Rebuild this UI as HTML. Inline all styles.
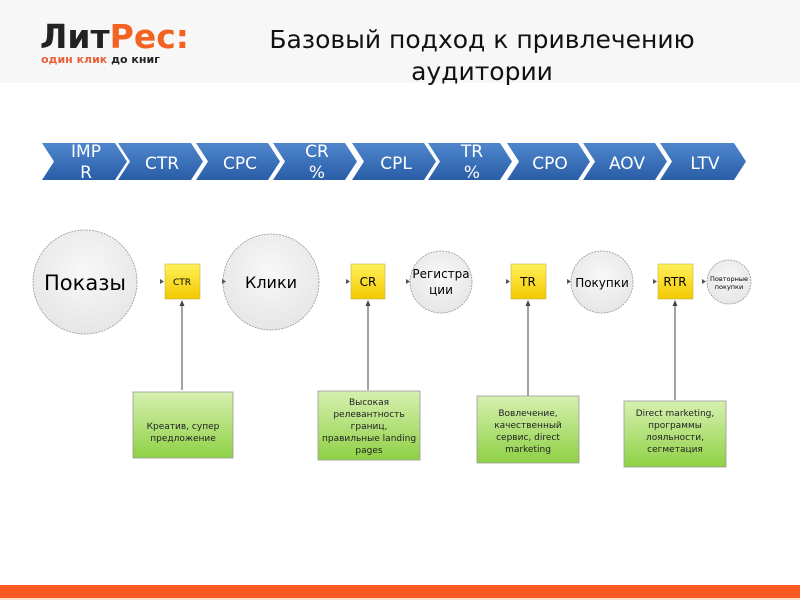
<!DOCTYPE html>
<html><head><meta charset="utf-8"><style>
body{margin:0;width:800px;height:600px;overflow:hidden;background:#fff;font-family:"Liberation Sans","DejaVu Sans",sans-serif}
</style></head><body>
<svg width="800" height="600" xmlns="http://www.w3.org/2000/svg" font-family="'DejaVu Sans','Liberation Sans',sans-serif">
<defs>
<linearGradient id="bl" x1="0" y1="0" x2="0" y2="1"><stop offset="0" stop-color="#4f86cc"/><stop offset="1" stop-color="#2a5ea8"/></linearGradient>
<linearGradient id="yl" x1="0" y1="0" x2="0" y2="1"><stop offset="0" stop-color="#fff15a"/><stop offset="1" stop-color="#f2c800"/></linearGradient>
<linearGradient id="gr" x1="0" y1="0" x2="0" y2="1"><stop offset="0" stop-color="#d6f0b0"/><stop offset="1" stop-color="#8fd145"/></linearGradient>
<radialGradient id="ci" cx="0.5" cy="0.4" r="0.6"><stop offset="0" stop-color="#f8f8f8"/><stop offset="1" stop-color="#e6e6e6"/></radialGradient>
</defs>
<rect x="0" y="0" width="800" height="83" fill="#f7f7f7"/>
<text x="40" y="48" font-size="33" font-weight="bold" fill="#222">Лит<tspan fill="#f26322">Рес:</tspan></text>
<text x="41" y="63" font-size="11" font-weight="bold" fill="#e8613a">один клик <tspan fill="#222">до книг</tspan></text>
<text x="482" y="48" font-size="25" text-anchor="middle" fill="#111">Базовый подход к привлечению</text>
<text x="482" y="80" font-size="25" text-anchor="middle" fill="#111">аудитории</text>
<g fill="url(#bl)">
<polygon points="42,143 115,143 127,161.5 115,180 42,180 54,161.5"/>
<polygon points="118,143 191,143 203,161.5 191,180 118,180 130,161.5"/>
<polygon points="196,143 268,143 280,161.5 268,180 196,180 208,161.5"/>
<polygon points="273,143 345,143 357,161.5 345,180 273,180 285,161.5"/>
<polygon points="352,143 424,143 436,161.5 424,180 352,180 364,161.5"/>
<polygon points="428,143 500,143 512,161.5 500,180 428,180 440,161.5"/>
<polygon points="507,143 578,143 590,161.5 578,180 507,180 519,161.5"/>
<polygon points="583,143 655,143 667,161.5 655,180 583,180 595,161.5"/>
<polygon points="660,143 734,143 746,161.5 734,180 660,180 672,161.5"/>
</g>
<g fill="#fff" font-size="17" text-anchor="middle">
<text x="86" y="157">IMP</text><text x="86" y="178">R</text>
<text x="162" y="169">CTR</text>
<text x="240" y="169">CPC</text>
<text x="317" y="157">CR</text><text x="317" y="178">%</text>
<text x="396" y="169">CPL</text>
<text x="472" y="157">TR</text><text x="472" y="178">%</text>
<text x="550" y="169">CPO</text>
<text x="627" y="169">AOV</text>
<text x="705" y="169">LTV</text>
</g>
<g fill="url(#ci)" stroke="#999" stroke-dasharray="2,1" stroke-width="0.8">
<circle cx="85" cy="282" r="52"/>
<circle cx="271" cy="282" r="48"/>
<circle cx="441" cy="282" r="31"/>
<circle cx="602" cy="282" r="31"/>
<circle cx="729" cy="282" r="22"/>
</g>
<g fill="url(#yl)" stroke="#c9b24a" stroke-width="0.6">
<rect x="165" y="264" width="35" height="35"/>
<rect x="351" y="264" width="34" height="35"/>
<rect x="511" y="264" width="35" height="35"/>
<rect x="658" y="264" width="35" height="35"/>
</g>
<g fill="#555">
<polygon points="160,279 164,281.5 160,284"/>
<polygon points="222,279 226,281.5 222,284"/>
<polygon points="346,279 350,281.5 346,284"/>
<polygon points="406,279 410,281.5 406,284"/>
<polygon points="506,279 510,281.5 506,284"/>
<polygon points="567,279 571,281.5 567,284"/>
<polygon points="653,279 657,281.5 653,284"/>
<polygon points="702,279 706,281.5 702,284"/>
</g>
<g fill="#000" text-anchor="middle">
<text x="85" y="290" font-size="21">Показы</text>
<text x="271" y="288" font-size="16">Клики</text>
<text x="441" y="278" font-size="12">Регистра</text><text x="441" y="294" font-size="12">ции</text>
<text x="602" y="287" font-size="12">Покупки</text>
<text x="729" y="281" font-size="6.5">Повторные</text><text x="729" y="289" font-size="6.5">покупки</text>
<text x="182" y="285" font-size="9">CTR</text>
<text x="368" y="286" font-size="12">CR</text>
<text x="528" y="286" font-size="12">TR</text>
<text x="675" y="286" font-size="12">RTR</text>
</g>
<g stroke="#444" stroke-width="1">
<line x1="182" y1="302" x2="182" y2="390"/>
<line x1="368" y1="302" x2="368" y2="390"/>
<line x1="528" y1="302" x2="528" y2="396"/>
<line x1="675" y1="302" x2="675" y2="400"/>
</g>
<g fill="#444">
<polygon points="179.5,306 182,300 184.5,306"/>
<polygon points="365.5,306 368,300 370.5,306"/>
<polygon points="525.5,306 528,300 530.5,306"/>
<polygon points="672.5,306 675,300 677.5,306"/>
</g>
<g fill="url(#gr)" stroke="#999" stroke-width="0.8">
<rect x="133" y="392" width="100" height="66"/>
<rect x="318" y="391" width="102" height="69"/>
<rect x="477" y="396" width="102" height="67"/>
<rect x="624" y="401" width="102" height="66"/>
</g>
<g fill="#222" font-size="9" text-anchor="middle">
<text x="183" y="429">Креатив, супер</text><text x="183" y="441">предложение</text>
<text x="369" y="405">Высокая</text><text x="369" y="417">релевантность</text><text x="369" y="429">границ,</text><text x="369" y="441">правильные landing</text><text x="369" y="453">pages</text>
<text x="528" y="416">Вовлечение,</text><text x="528" y="428">качественный</text><text x="528" y="440">сервис, direct</text><text x="528" y="452">marketing</text>
<text x="675" y="416">Direct marketing,</text><text x="675" y="428">программы</text><text x="675" y="440">лояльности,</text><text x="675" y="452">сегметация</text>
</g>
<rect x="0" y="585" width="800" height="13" fill="#fa5a22"/>
<rect x="0" y="598" width="800" height="2" fill="#fde0c8"/>
</svg>
</body></html>
